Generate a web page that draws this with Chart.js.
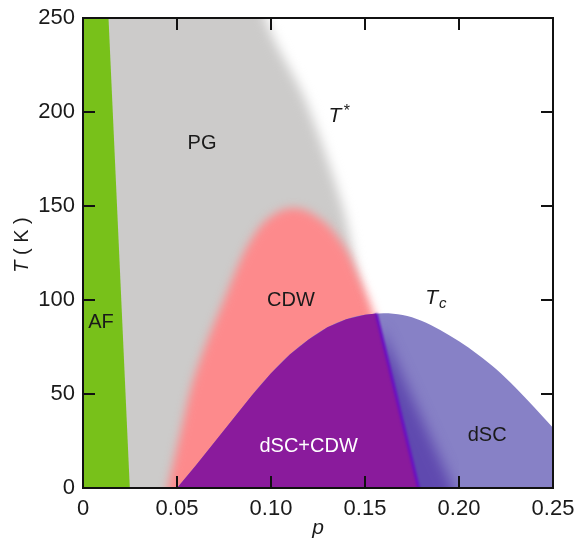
<!DOCTYPE html>
<html>
<head>
<meta charset="utf-8">
<script src="https://cdn.jsdelivr.net/npm/chart.js@4.4.1/dist/chart.umd.min.js"></script>
<style>
  html, body { margin: 0; padding: 0; background: #fff; }
  #wrap { width: 575px; height: 541px; }
</style>
</head>
<body>
<div id="wrap"><canvas id="phase"></canvas></div>
<script>
// Hole doping p against temperature T (K)
const xTicks = [0, 0.05, 0.10, 0.15, 0.20, 0.25];
const yTicks = [0, 50, 100, 150, 200, 250];

// antiferromagnet edge
const afP = [-0.01, 0.0113, 0.0258];
const afT = [300, 300, -20];

// pseudogap crossover T*
const pgP = [-0.05, 0.090, 0.097, 0.118, 0.138, 0.146, 0.150, 0.162, 0.166];
const pgT = [300, 300, 250, 207, 150, 110, 80, 0, -30];

// charge density wave dome
const cdwP = [0.038, 0.045, 0.052, 0.058, 0.066, 0.075, 0.085, 0.095, 0.104, 0.112,
              0.120, 0.130, 0.140, 0.147, 0.152, 0.158, 0.166, 0.176, 0.181];
const cdwT = [-30, 0, 30, 55, 78, 100, 124, 140, 147, 149,
              147, 140, 127, 112, 100, 82, 50, 0, -30];

// superconducting dome Tc
const tcP = [0.05, 0.06, 0.07, 0.08, 0.09, 0.10, 0.11, 0.12, 0.13, 0.14, 0.15,
             0.16, 0.17, 0.18, 0.19, 0.20, 0.21, 0.22, 0.23, 0.24, 0.25, 0.26];
const tcT = [0, 12, 24.5, 37, 49.5, 61, 71, 79, 85.5, 89.8, 92.2,
             93, 92, 89, 84, 78, 71, 63, 53.5, 43, 32, 20];

// edge between dSC+CDW and pure dSC
const splitP = [0.156, 0.1785, 0.179];
const splitT = [92.8, 0, -10];

// darker shading just right of that edge
const bandP = [0.158, 0.197, 0.200];
const bandT = [86, 0, -10];

// region names, anchored in (p, T)
const regionText = ['AF', 'PG', 'CDW', 'dSC+CDW', 'dSC'];
const regionP = [0.0096, 0.0633, 0.1106, 0.120, 0.215];
const regionT = [88, 183.5, 100, 22.3, 28];
const regionColor = ['#1a1a1a', '#1a1a1a', '#1a1a1a', '#ffffff', '#1a1a1a'];

const pts = (ps, ts) => ps.map((p, i) => ({ x: p, y: ts[i] }));

const purpleP = tcP.filter(p => p < splitP[0]).concat(splitP);
const purpleT = tcT.slice(0, purpleP.length - splitP.length).concat(splitT);

const FONT = "'Liberation Sans', Arial, sans-serif";

// soft edges: set a canvas blur while a dataset (and its fill) is drawn
const softEdges = {
  id: 'softEdges',
  beforeDatasetDraw(chart, args) {
    const b = chart.data.datasets[args.index].blur;
    if (b) {
      chart.ctx.save();
      chart.ctx.filter = `blur(${b}px)`;
    }
  },
  afterDatasetDraw(chart, args) {
    if (chart.data.datasets[args.index].blur) chart.ctx.restore();
  }
};
// filler has to run after softEdges so the fill is blurred too
const filler = Chart.Filler || Chart.registry.getPlugin('filler');
Chart.unregister(filler);
Chart.register(softEdges, filler);

const frame = {
  id: 'frame',
  afterDatasetsDraw(chart) {
    const { ctx, chartArea: a, scales: { x, y } } = chart;
    const L = 12;
    ctx.save();
    ctx.strokeStyle = '#111';
    ctx.lineWidth = 2;
    ctx.beginPath();
    xTicks.slice(1, -1).forEach(v => {
      const px = Math.round(x.getPixelForValue(v));
      ctx.moveTo(px, a.bottom); ctx.lineTo(px, a.bottom - L);
      ctx.moveTo(px, a.top); ctx.lineTo(px, a.top + L);
    });
    yTicks.slice(1, -1).forEach(v => {
      const py = Math.round(y.getPixelForValue(v));
      ctx.moveTo(a.left, py); ctx.lineTo(a.left + L, py);
      ctx.moveTo(a.right, py); ctx.lineTo(a.right - L, py);
    });
    ctx.stroke();
    ctx.strokeRect(a.left, a.top, a.right - a.left, a.bottom - a.top);
    ctx.restore();
  }
};

const labels = {
  id: 'labels',
  afterDraw(chart) {
    const { ctx, scales: { x, y } } = chart;
    ctx.save();
    ctx.textAlign = 'center';
    ctx.textBaseline = 'middle';
    ctx.font = `20px ${FONT}`;
    regionText.forEach((t, i) => {
      ctx.fillStyle = regionColor[i];
      ctx.fillText(t, x.getPixelForValue(regionP[i]), y.getPixelForValue(regionT[i]));
    });

    ctx.fillStyle = '#1a1a1a';
    // T*
    let px = x.getPixelForValue(0.134), py = y.getPixelForValue(198);
    ctx.font = `italic 21px ${FONT}`;
    ctx.fillText('T', px, py);
    ctx.font = `16px ${FONT}`;
    ctx.fillText('*', px + 12, py - 4);
    // Tc
    px = x.getPixelForValue(0.1855); py = y.getPixelForValue(101);
    ctx.font = `italic 21px ${FONT}`;
    ctx.fillText('T', px, py);
    ctx.font = `italic 15px ${FONT}`;
    ctx.fillText('c', px + 11, py + 6);

    // y axis title: T ( K )
    ctx.translate(22, 245);
    ctx.rotate(-Math.PI / 2);
    ctx.textAlign = 'left';
    const italicT = `italic 20px ${FONT}`, plain = `20px ${FONT}`;
    ctx.font = italicT;
    const w1 = ctx.measureText('T').width;
    ctx.font = plain;
    const w2 = ctx.measureText(' ( K )').width;
    const x0 = -(w1 + w2) / 2;
    ctx.font = italicT;
    ctx.fillText('T', x0, 0);
    ctx.font = plain;
    ctx.fillText(' ( K )', x0 + w1, 0);
    ctx.restore();
  }
};

function region(ps, ts, color, order, blur) {
  return {
    data: pts(ps, ts),
    showLine: true,
    borderWidth: 0,
    borderColor: 'rgba(0,0,0,0)',
    backgroundColor: color,
    pointRadius: 0,
    tension: 0.3,
    fill: { value: -60 },
    order: order,
    blur: blur
  };
}

new Chart(document.getElementById('phase'), {
  type: 'scatter',
  data: {
    datasets: [
      region(pgP, pgT, '#cccbca', 7, 6),
      region(cdwP, cdwT, '#fd8a8c', 6, 5),
      Object.assign(region(afP, afT, '#78c11a', 5), { tension: 0 }),
      Object.assign(region(tcP, tcT, '#8781c6', 4), { cubicInterpolationMode: 'monotone' }),
      Object.assign(region(bandP, bandT, 'rgba(78,50,165,0.7)', 3, 7), { tension: 0 }),
      Object.assign(region(purpleP, purpleT, '#8a1b9c', 2), { tension: 0 }),
      {
        data: pts(splitP, splitT),
        showLine: true,
        borderWidth: 3,
        borderColor: '#6a10c2',
        pointRadius: 0,
        fill: false,
        order: 1,
        blur: 1
      }
    ]
  },
  options: {
    responsive: true,
    maintainAspectRatio: false,
    animation: false,
    events: [],
    layout: { padding: { top: 18, right: 22, left: 0, bottom: 0 } },
    plugins: {
      legend: { display: false },
      tooltip: { enabled: false }
    },
    scales: {
      x: {
        type: 'linear',
        min: 0,
        max: 0.25,
        afterBuildTicks: s => { s.ticks = xTicks.map(v => ({ value: v })); },
        afterFit: s => {
          s.height = 53;
          s.paddingLeft = 0;
          s.paddingRight = 0;
        },
        grid: { display: false, drawTicks: false },
        border: { display: false },
        ticks: {
          color: '#1a1a1a',
          font: { family: FONT, size: 22 },
          padding: 8,
          maxRotation: 0,
          callback: v => (v === 0 ? '0' : v.toFixed(2))
        },
        title: {
          display: true,
          text: 'p',
          color: '#1a1a1a',
          font: { family: FONT, size: 21, style: 'italic' },
          padding: { top: 0, bottom: 0 }
        }
      },
      y: {
        type: 'linear',
        min: 0,
        max: 250,
        afterBuildTicks: s => { s.ticks = yTicks.map(v => ({ value: v })); },
        afterFit: s => {
          s.width = 83;
          s.paddingTop = 0;
          s.paddingBottom = 0;
        },
        grid: { display: false, drawTicks: false },
        border: { display: false },
        ticks: {
          color: '#1a1a1a',
          font: { family: FONT, size: 22 },
          padding: 8
        }
      }
    }
  },
  plugins: [frame, labels]
});
</script>
</body>
</html>
